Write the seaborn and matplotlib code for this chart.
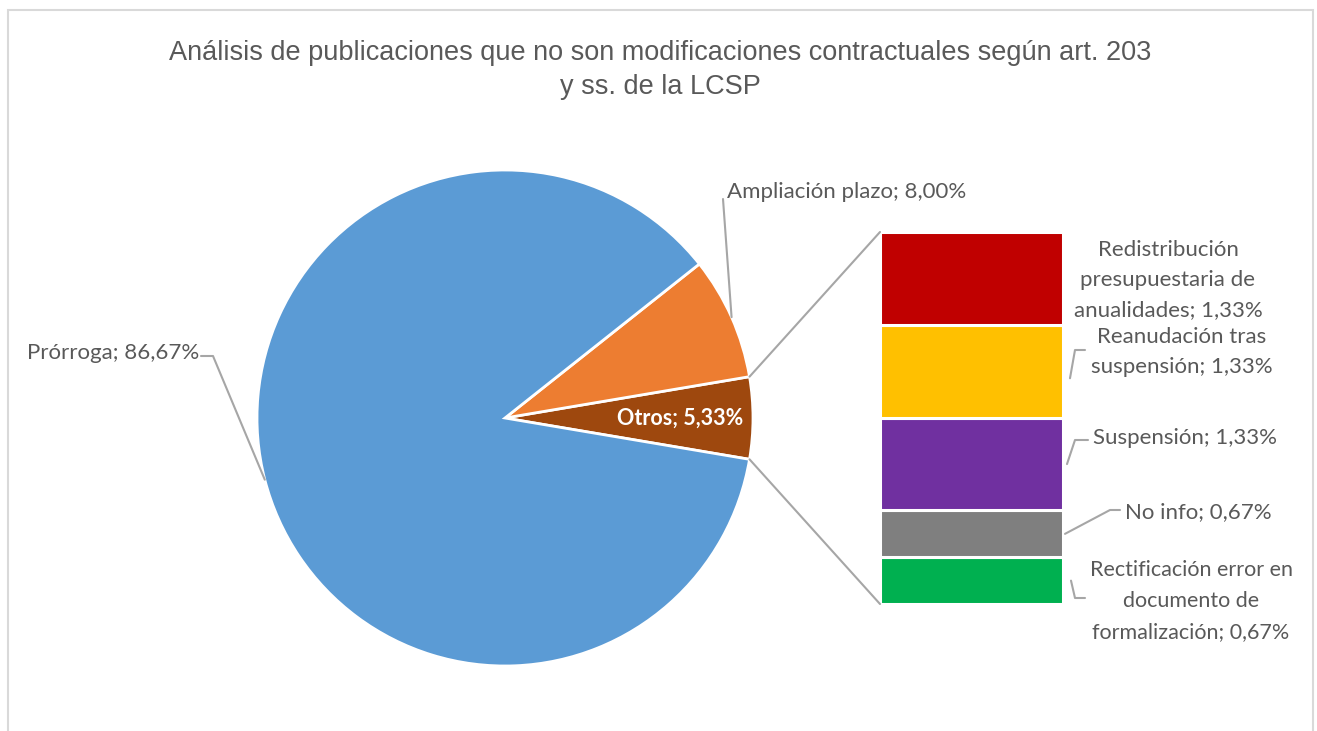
import numpy as np
import matplotlib
matplotlib.use("Agg")
import matplotlib.pyplot as plt
import seaborn as sns
from matplotlib.patches import ConnectionPatch, Rectangle

# Datos del gráfico (porcentajes)
pie_labels = ["Otros", "Ampliación plazo", "Prórroga"]
pie_values = [5.33, 8.00, 86.67]
pie_colors = ["#9E480E", "#ED7D31", "#5B9BD5"]

# Desglose de "Otros" (de abajo arriba en la barra)
bar_labels = ["Rectificación error en\ndocumento de\nformalización",
              "No info",
              "Suspensión",
              "Reanudación tras\nsuspensión",
              "Redistribución\npresupuestaria de\nanualidades"]
bar_values = [0.67, 0.67, 1.33, 1.33, 1.33]
bar_colors = ["#00B050", "#7F7F7F", "#7030A0", "#FFC000", "#C00000"]

title = "Análisis de publicaciones que no son modificaciones contractuales según art. 203\ny ss. de la LCSP"

sns.set_theme(style="white")
plt.rcParams['font.family'] = ['Lato', 'DejaVu Sans']

W, H = 1317, 731
fig = plt.figure(figsize=(W / 100, H / 100), dpi=100)
ax = fig.add_axes([0, 0, 1, 1])

def fmt(v):
    return f"{v:.2f}".replace(".", ",") + "%"

# Tarta: "Otros" centrado en 0 grados
cx, cy, r = 505, 313, 248
start = -pie_values[0] / 100 * 360 / 2
wedges, _ = ax.pie(pie_values, colors=pie_colors, startangle=start, counterclock=True,
                   center=(cx, cy), radius=r,
                   wedgeprops=dict(edgecolor="white", linewidth=2))
ax.set_xlim(0, W)
ax.set_ylim(0, H)
ax.set_aspect("auto")
ax.set_position([0, 0, 1, 1])
ax.axis("off")

text_col = "#595959"
lead_col = "#A6A6A6"
fs = 16

# Etiqueta Otros (dentro)
ax.text(cx + 0.705 * r, cy, f"{pie_labels[0]}; {fmt(pie_values[0])}", color="white",
        fontsize=15.5, fontweight="bold", ha="center", va="center")

# Puntos medios de cada porción en el borde
def edge_point(w):
    ang = np.deg2rad((w.theta1 + w.theta2) / 2)
    return cx + r * np.cos(ang), cy + r * np.sin(ang)

# Ampliación plazo
ex, ey = edge_point(wedges[1])
ax.plot([ex, 723], [ey, 532], color=lead_col, lw=1.5)
ax.text(727, 539, f"{pie_labels[1]}; {fmt(pie_values[1])}", color=text_col,
        fontsize=fs, ha="left", va="center")

# Prórroga
ex, ey = edge_point(wedges[2])
ax.plot([ex, 213, 201], [ey, 375, 375], color=lead_col, lw=1.5)
ax.text(199, 378, f"{pie_labels[2]}; {fmt(pie_values[2])}", color=text_col,
        fontsize=fs, ha="right", va="center")

# Barra apilada
bx0, bx1, by_top, by_bot = 880, 1063, 232, 604
bax = fig.add_axes([bx0 / W, (H - by_bot) / H, (bx1 - bx0) / W, (by_bot - by_top) / H])
bottom = 0
mids = []
for lab, val, col in zip(bar_labels, bar_values, bar_colors):
    bax.bar(0, val, width=1.0, bottom=bottom, color=col, edgecolor="white", linewidth=2.2)
    mids.append(bottom + val / 2)
    bottom += val
bax.set_xlim(-0.5, 0.5)
bax.set_ylim(0, sum(bar_values))
bax.axis("off")

# Líneas de conexión tarta -> barra
th1 = np.deg2rad(wedges[0].theta1)
th2 = np.deg2rad(wedges[0].theta2)
con = ConnectionPatch(xyA=(-0.5, sum(bar_values)), coordsA=bax.transData,
                      xyB=(cx + r * np.cos(th2), cy + r * np.sin(th2)), coordsB=ax.transData,
                      color=lead_col, lw=1.5)
fig.add_artist(con)
con = ConnectionPatch(xyA=(-0.5, 0), coordsA=bax.transData,
                      xyB=(cx + r * np.cos(th1), cy + r * np.sin(th1)), coordsB=ax.transData,
                      color=lead_col, lw=1.5)
fig.add_artist(con)

# Etiquetas de la barra
def bar_pt(y):
    p = bax.transData.transform((0.5, y))
    return ax.transData.inverted().transform(p)

labs_txt = [f"{l}; {fmt(v)}" for l, v in zip(bar_labels, bar_values)]
ls = 1.62
# Rectificación
sx, sy = bar_pt(mids[0])
ax.plot([sx + 8, 1075, 1085], [sy, H - 598, H - 598], color=lead_col, lw=1.5)
ax.text(1191, H - 601, labs_txt[0], color=text_col, fontsize=15.5, ha="center", va="center",
        linespacing=1.67)
# No info
sx, sy = bar_pt(mids[1])
ax.plot([sx + 2, 1110, 1120], [sy, H - 510, H - 510], color=lead_col, lw=1.5)
ax.text(1125, H - 512, labs_txt[1], color=text_col, fontsize=fs, ha="left", va="center")
# Suspensión
sx, sy = bar_pt(mids[2])
ax.plot([sx + 4, 1075, 1088], [sy, H - 440, H - 440], color=lead_col, lw=1.5)
ax.text(1093, H - 438, labs_txt[2], color=text_col, fontsize=fs, ha="left", va="center")
# Reanudación
sx, sy = bar_pt(mids[3])
ax.plot([sx + 7, 1075, 1085], [sy - 7, H - 350, H - 350], color=lead_col, lw=1.5)
ax.text(1182, H - 352, labs_txt[3], color=text_col, fontsize=fs, ha="center", va="center",
        linespacing=ls)
# Redistribución
ax.text(1168, H - 280, labs_txt[4], color=text_col, fontsize=fs, ha="center", va="center",
        linespacing=ls)

# Título
ax.text(660, H - 70, title, color=text_col, fontsize=19.5, ha="center", va="center",
        family=["Liberation Sans", "DejaVu Sans"], linespacing=1.45)

# Marco del gráfico
fig.add_artist(Rectangle((8 / W, -0.05), (1313 - 8) / W, (H - 10) / H + 0.05,
                         transform=fig.transFigure, fill=False, edgecolor="#D9D9D9", lw=1.5))

fig.savefig("out.png", dpi=100)
